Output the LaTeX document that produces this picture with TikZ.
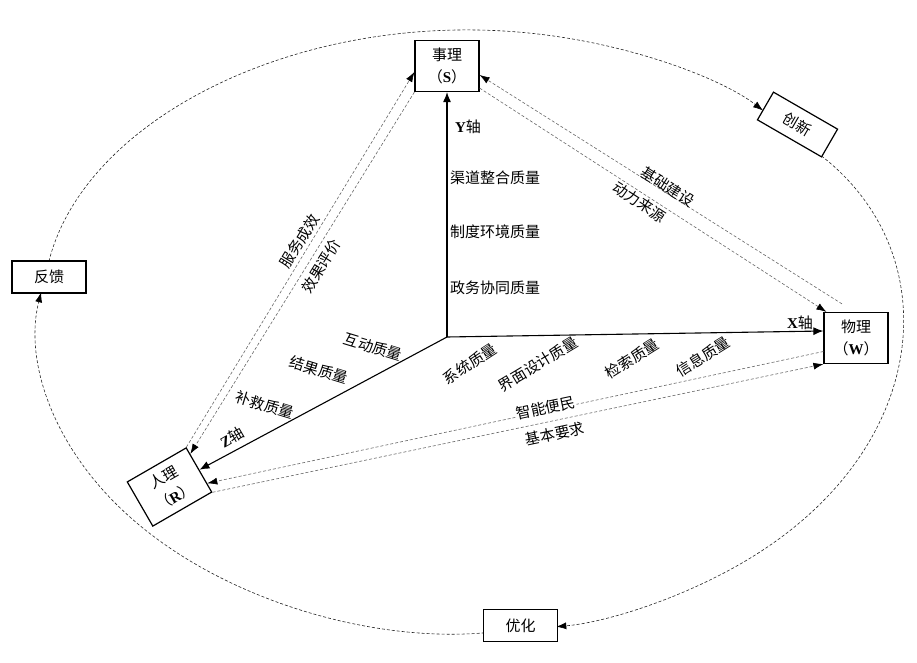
\documentclass[tikz,border=0pt]{standalone}
\usepackage{fontspec}
\setmainfont{Noto Sans CJK SC}
\newfontfamily\tnr{Liberation Serif}
\usetikzlibrary{arrows.meta,positioning,calc}
\newcommand{\lat}[1]{{\tnr\bfseries #1}}
\tikzset{
  box/.style={draw=black,line width=1.2pt,fill=white,align=center,inner sep=1pt,font=\fontsize{15}{22}\selectfont,minimum width=64pt,minimum height=51pt},
  small/.style={box,minimum width=74pt,minimum height=32pt},
  lbl/.style={font=\fontsize{15}{18}\selectfont,inner sep=1pt},
  axis/.style={-{Latex[length=10pt,width=8pt]},line width=1.1pt},
  link/.style={-{Latex[length=10pt,width=7pt,color=black]},draw=black!60,line width=0.6pt,dash pattern=on 3pt off 2pt},
  loopline/.style={-{Latex[length=10pt,width=7pt,color=black]},draw=black!85,line width=0.6pt,dash pattern=on 3pt off 2pt},
}
\begin{document}
\begin{tikzpicture}[x=1pt,y=1pt]
    \useasboundingbox (0,0) rectangle (917,662);
    % outer loop
    \coordinate (ctr) at (468,331);
    \coordinate (fk) at ($(ctr)+(170:430pt and 301pt)$);
    \coordinate (cx) at ($(ctr)+(42:430pt and 301pt)$);
    \coordinate (yh) at ($(ctr)+(-83:430pt and 301pt)$);
    \draw[loopline,shorten <=18pt,shorten >=31pt] (fk) arc[start angle=170,end angle=42,x radius=430pt,y radius=301pt];
    \draw[loopline,shorten <=43pt,shorten >=36pt] (cx) arc[start angle=42,end angle=-83,x radius=430pt,y radius=301pt];
    \draw[loopline,shorten <=36pt,shorten >=14pt] (yh) arc[start angle=-83,end angle=-190,x radius=430pt,y radius=301pt];
    % boxes
    \node[box] (shili) at (447,596) {事理\\（\lat{S}）};
    \node[box] (wuli) at (856,324) {物理\\（\lat{W}）};
    \node[box,rotate=30,minimum width=68pt] (renli) at (169.5,175) {人理\\（\lat{R}）};
    \node[small] (fankui) at (49,385) {反馈};
    \node[small,rotate=-30] (chuangxin) at (797.5,537.5) {创新};
    \node[small] (youhua) at (520.5,36.5) {优化};
    % axes
    \coordinate (axO) at (447,325);
    \draw[axis] (axO) -- (shili.south);
    \draw[axis] (axO) -- ([yshift=7pt]wuli.west);
    \draw[axis] (axO) -- (renli.east);
    \node[lbl] (yz) at (468,535) {\lat{Y}轴};
    \node[lbl] (xz) at (800,339) {\lat{X}轴};
    \node[lbl,rotate=30] (zz) at (232,225) {\lat{Z}轴};
    \node[lbl,anchor=west] (yq1) at (449,484) {渠道整合质量};
    \node[lbl,anchor=west] (yq2) at (449,430) {制度环境质量};
    \node[lbl,anchor=west] (yq3) at (449,374) {政务协同质量};
    \node[lbl,rotate=-17] (zq1) at (373,315) {互动质量};
    \node[lbl,rotate=-17] (zq2) at (319,292) {结果质量};
    \node[lbl,rotate=-17] (zq3) at (265,257) {补救质量};
    \node[lbl,rotate=33] (xq1) at (470,298) {系统质量};
    \node[lbl,rotate=31] (xq2) at (538,298) {界面设计质量};
    \node[lbl,rotate=32] (xq3) at (632,303) {检索质量};
    \node[lbl,rotate=32] (xq4) at (703,305) {信息质量};
    % dashed links
    \draw[link] (renli.north east) -- node[lbl,sloped,above=2pt,pos=0.535] (fwcx) {服务成效} ([yshift=-6pt]shili.west);
    \draw[link] (shili.south west) -- node[lbl,sloped,below=4pt,pos=0.463] (xgpj) {效果评价} ($(renli.north east)!0.3!(renli.east)$);
    \draw[link] ([xshift=-14pt,yshift=8pt]wuli.north) -- node[lbl,sloped,above=-2pt,pos=0.49] (jcjs) {基础建设} ([yshift=-9pt]shili.east);
    \draw[link] ([yshift=4pt]shili.south east) -- node[lbl,sloped,below=1pt,pos=0.475] (dlly) {动力来源} ([xshift=3pt]wuli.north west);
    \draw[link] ([yshift=-13.5pt]wuli.west) -- node[lbl,sloped,fill=white,above=-5pt,pos=0.45] (znbm) {智能便民} ($(renli.east)!0.6!(renli.south east)$);
    \draw[link] (renli.south east) -- node[lbl,sloped,below=5pt,pos=0.556] (jbyq) {基本要求} (wuli.south west);
\end{tikzpicture}
\end{document}
